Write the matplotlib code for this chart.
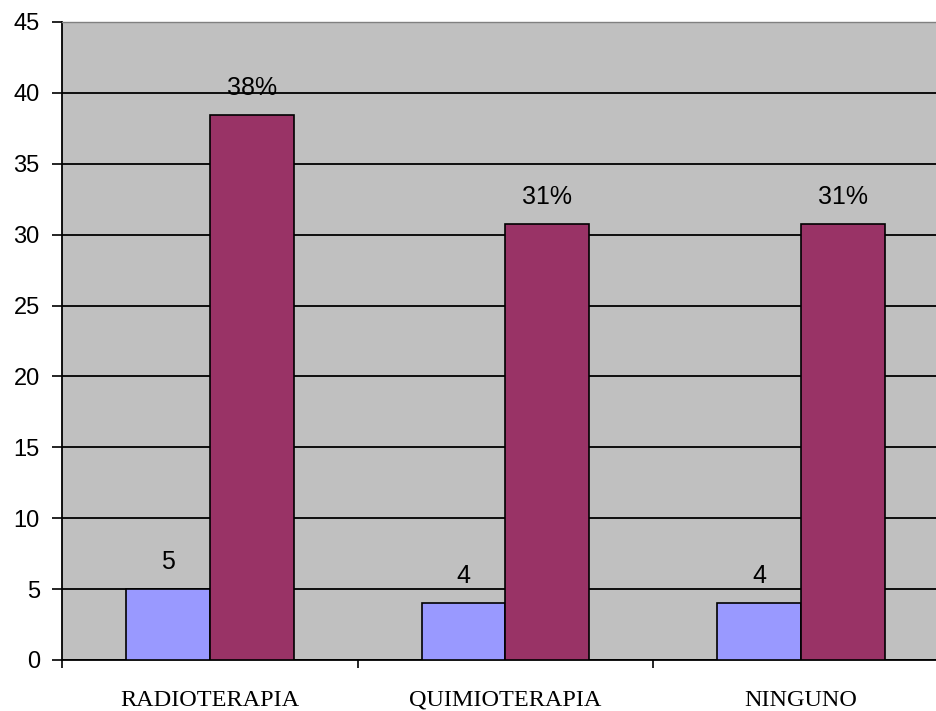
import matplotlib.pyplot as plt
import numpy as np

# tratamientos previos
categorias = ['RADIOTERAPIA', 'QUIMIOTERAPIA', 'NINGUNO']
casos = [5, 4, 4]
porcentajes = [38.46, 30.77, 30.77]

fig = plt.figure(figsize=(9.36, 7.11), dpi=100)
ax = fig.add_axes([62 / 936, 51 / 711, 887 / 936, 638 / 711])
ax.set_facecolor('#C0C0C0')

x = np.arange(len(categorias))
w = 0.284
b1 = ax.bar(x - w / 2, casos, w, color='#9999FF', edgecolor='black', linewidth=1.2, zorder=3)
b2 = ax.bar(x + w / 2, porcentajes, w, color='#993366', edgecolor='black', linewidth=1.2, zorder=3)

# etiquetas de datos
for r, v in zip(b1, casos):
    ax.annotate(f'{v}', (r.get_x() + r.get_width() / 2, v), xytext=(0, 14.4),
                textcoords='offset points', ha='center', va='baseline',
                fontsize=18, family='Liberation Sans')
for r, v in zip(b2, porcentajes):
    ax.annotate(f'{v:.0f}%', (r.get_x() + r.get_width() / 2, v), xytext=(0, 14.4),
                textcoords='offset points', ha='center', va='baseline',
                fontsize=18, family='Liberation Sans')

ax.set_xlim(-0.5, 2.5)
ax.set_ylim(0, 45)
ax.set_yticks(range(0, 50, 5))
ax.yaxis.grid(True, color='black', linewidth=1.3, zorder=1)
ax.set_axisbelow(True)

ax.set_xticks(x)
ax.set_xticklabels(categorias, family='Liberation Serif', fontsize=17.5)
ax.tick_params(axis='x', length=0, pad=33)
for t in ax.get_xticklabels():
    t.set_verticalalignment('baseline')
ax.set_xticks([-0.5, 0.5, 1.5, 2.5], minor=True)
ax.tick_params(axis='x', which='minor', length=6, width=1.2, direction='out')
ax.tick_params(axis='y', length=7, width=1.2, labelsize=17, pad=9)
for t in ax.get_yticklabels():
    t.set_family('Liberation Sans')

ax.spines['left'].set_linewidth(1.3)
ax.spines['bottom'].set_linewidth(1.3)
ax.spines['top'].set_color('#808080')
ax.spines['top'].set_linewidth(1.0)
ax.spines['right'].set_visible(False)

fig.savefig('out.png', dpi=100)
